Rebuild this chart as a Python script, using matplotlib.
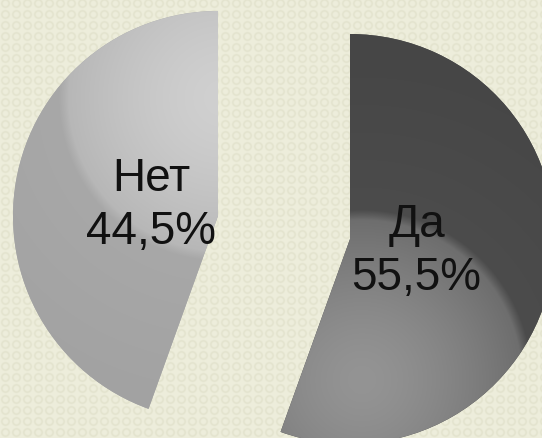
import matplotlib.pyplot as plt
import numpy as np

plt.rcParams['font.family'] = ['Liberation Sans', 'DejaVu Sans']

# данные
labels = ['Да', 'Нет']
values = [55.5, 44.5]
base_gray = [0x4c, 0xa8]      # основной тон сектора
spot_gray = [(0x94, 0x6c), (0xd0, 0xb6)]   # светлое пятно: центр, край

W, H = 542, 439
fig = plt.figure(figsize=(W / 100, H / 100), dpi=100)
fig.patch.set_facecolor('#ebebd6')
ax = fig.add_axes([0, 0, 1, 1])

xx, yy = np.meshgrid(np.arange(W) + 0.5, np.arange(H) + 0.5)

# фон с мелким узором
per = 11.0
rr = np.hypot(np.mod(xx, per) - per / 2, np.mod(yy, per) - per / 2)
ring = np.exp(-((rr - 3.6) / 1.1) ** 2) * 0.55
bg = np.array([0xee, 0xee, 0xdc]) / 255.0
dk = np.array([0xdb, 0xdb, 0xc4]) / 255.0
bgimg = bg[None, None, :] * (1 - ring[..., None]) + dk[None, None, :] * ring[..., None]
ax.imshow(bgimg, extent=(0, W, 0, H), origin='lower', interpolation='bilinear', zorder=0)

names = iter(labels)
def fmt(p):
    return '%s\n%s%%' % (next(names), ('%.1f' % p).replace('.', ','))

# explode в pie задаётся в единицах данных
wedges, _, texts = ax.pie(values, startangle=90, counterclock=False,
                          center=(284, 210.5), radius=205,
                          explode=[67, 67], autopct=fmt,
                          pctdistance=0.33, frame=True,
                          wedgeprops=dict(linewidth=0),
                          textprops=dict(fontsize=33, color='#111111',
                                         linespacing=1.25))
ax.set_aspect('equal')
ax.axis('off')

# градиентная заливка секторов
spots = [((362, 58), 165), ((222, 340), 158)]
for w, b, (c0, c1), ((sx, sy), sr) in zip(wedges, base_gray, spot_gray, spots):
    d = np.hypot(xx - sx, yy - sy) / sr
    soft = np.clip((d - 0.97) / 0.06, 0, 1)
    inside = c0 + (c1 - c0) * np.clip(d, 0, 1) ** 1.5
    outside = b - 6 * np.clip(d - 1, 0, 1)
    g = inside * (1 - soft) + outside * soft
    g = np.clip(g, 0, 255) / 255.0
    img = np.dstack([g, g, g])
    im = ax.imshow(img, extent=(0, W, 0, H), origin='lower',
                   interpolation='bilinear', zorder=1.5)
    im.set_clip_path(w)
    w.set_facecolor((b / 255,) * 3)

for t in texts:
    t.set_zorder(3)

ax.set_xlim(0, W)
ax.set_ylim(0, H)
fig.savefig('out.png', dpi=100, facecolor=fig.get_facecolor())
